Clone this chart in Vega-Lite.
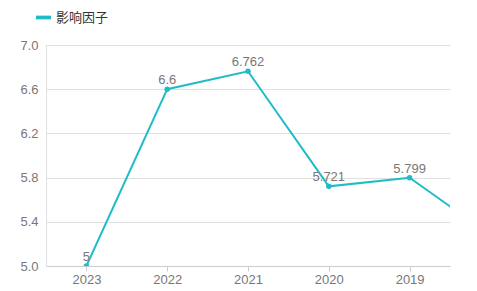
{
  "$schema": "https://vega.github.io/schema/vega-lite/v6.json",
  "autosize": {"type": "none"},
  "padding": {"left": 46, "top": 45, "right": 27, "bottom": 25},
  "width": 404,
  "height": 221,
  "background": "#ffffff",
  "config": {
    "view": {"stroke": null},
    "font": "Liberation Sans",
    "axis": {"labelFont": "Liberation Sans", "labelFontSize": 13, "labelColor": "#777777"}
  },
  "data": {
    "values": [
      {"year": 2023, "value": 5},
      {"year": 2022, "value": 6.6},
      {"year": 2021, "value": 6.762},
      {"year": 2020, "value": 5.721},
      {"year": 2019, "value": 5.799},
      {"year": 2018, "value": 5.28}
    ]
  },
  "encoding": {
    "x": {
      "field": "year",
      "type": "quantitative",
      "scale": {"domain": [2023.5, 2018.5], "nice": false, "zero": false},
      "axis": {
        "title": null,
        "values": [2023, 2022, 2021, 2020, 2019],
        "format": "d",
        "grid": false,
        "domainColor": "#cccccc",
        "tickColor": "#cccccc",
        "tickSize": 5,
        "labelPadding": 2,
        "labelFlush": false
      }
    },
    "y": {
      "field": "value",
      "type": "quantitative",
      "scale": {"domain": [5, 7], "nice": false, "zero": false},
      "axis": {
        "title": null,
        "values": [5, 5.4, 5.8, 6.2, 6.6, 7],
        "format": ".1f",
        "grid": true,
        "gridColor": "#e0e0e0",
        "domain": true,
        "domainColor": "#e0e0e0",
        "ticks": false,
        "labelPadding": 8
      }
    }
  },
  "layer": [
    {
      "mark": {"type": "line", "clip": true, "strokeWidth": 2, "point": {"filled": true, "size": 30}},
      "encoding": {
        "color": {
          "datum": "影响因子",
          "scale": {"range": ["#1FBCC8"]},
          "legend": {
            "title": null,
            "orient": "none",
            "legendX": -10,
            "legendY": -35,
            "symbolType": "M-1,-0.25L1,-0.25L1,0.25L-1,0.25Z",
            "symbolSize": 225,
            "symbolStrokeWidth": 0,
            "labelFont": "Noto Sans CJK SC",
            "labelFontSize": 13,
            "labelColor": "#333333",
            "labelOffset": 5
          }
        }
      }
    },
    {
      "transform": [{"filter": "datum.year >= 2019"}],
      "mark": {"type": "text", "clip": true, "baseline": "alphabetic", "dy": -5, "fontSize": 13, "color": "#777777"},
      "encoding": {"text": {"field": "value", "type": "quantitative"}}
    }
  ]
}
